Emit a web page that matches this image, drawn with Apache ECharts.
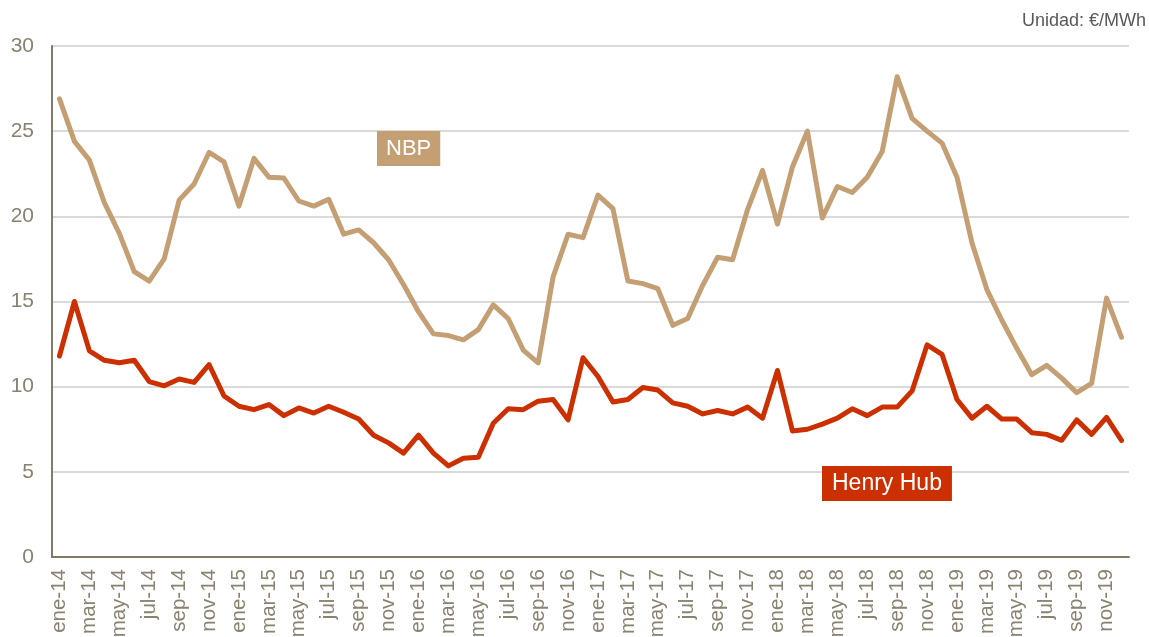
<!DOCTYPE html>
<html>
<head>
<meta charset="utf-8">
<title>NBP y Henry Hub</title>
<script src="https://cdn.jsdelivr.net/npm/echarts@6/dist/echarts.min.js"></script>
<style>
  html, body { margin: 0; padding: 0; background: #ffffff; }
  #chart { width: 1149px; height: 637px; }
</style>
</head>
<body>
<div id="chart"></div>
<script>
// Meses en español y años del periodo
const monthNames = ['ene', 'feb', 'mar', 'abr', 'may', 'jun', 'jul', 'ago', 'sep', 'oct', 'nov', 'dic'];
const years = ['14', '15', '16', '17', '18', '19'];

// Precio mensual NBP (€/MWh)
const nbp = [
  26.9, 24.4, 23.3, 20.8, 19.0, 16.75, 16.2, 17.5, 20.95, 21.9, 23.75, 23.2,
  20.6, 23.4, 22.3, 22.25, 20.9, 20.6, 21.0, 18.95, 19.2, 18.45, 17.45, 16.0,
  14.4, 13.1, 13.0, 12.75, 13.35, 14.8, 14.0, 12.15, 11.4, 16.45, 18.95, 18.75,
  21.25, 20.45, 16.2, 16.05, 15.75, 13.6, 14.0, 15.95, 17.6, 17.45, 20.4, 22.7,
  19.55, 22.9, 25.0, 19.9, 21.75, 21.4, 22.3, 23.8, 28.2, 25.75, 25.0, 24.3,
  22.3, 18.45, 15.7, 13.9, 12.25, 10.7, 11.25, 10.5, 9.65, 10.2, 15.2, 12.9
];

// Precio mensual Henry Hub (€/MWh)
const henryHub = [
  11.8, 15.0, 12.1, 11.55, 11.4, 11.55, 10.3, 10.05, 10.45, 10.25, 11.3, 9.45,
  8.85, 8.65, 8.95, 8.3, 8.75, 8.45, 8.85, 8.5, 8.1, 7.15, 6.7, 6.1,
  7.15, 6.1, 5.35, 5.8, 5.85, 7.85, 8.7, 8.65, 9.15, 9.25, 8.05, 11.7,
  10.6, 9.1, 9.25, 9.95, 9.8, 9.05, 8.85, 8.4, 8.6, 8.4, 8.8, 8.15,
  10.95, 7.4, 7.5, 7.8, 8.15, 8.7, 8.3, 8.8, 8.8, 9.75, 12.45, 11.9,
  9.25, 8.15, 8.85, 8.1, 8.1, 7.3, 7.2, 6.85, 8.05, 7.2, 8.2, 6.85
];

// Escala vertical
const yMin = 0;
const yMax = 30;
const yStep = 5;

const categories = [];
years.forEach(y => monthNames.forEach(m => categories.push(m + '-' + y)));

const COLOR_NBP = '#c49f74';
const COLOR_HH = '#cd3000';
const AXIS_COLOR = '#857a66';
const LABEL_COLOR = '#8a8270';
const FONT = '"Liberation Sans", Arial, sans-serif';

const chart = echarts.init(document.getElementById('chart'), null, { renderer: 'canvas' });

chart.setOption({
  animation: false,
  backgroundColor: '#ffffff',
  grid: {
    left: 52, right: 20, top: 46, bottom: 80,
    containLabel: false,
    outerBoundsMode: 'none'
  },
  xAxis: {
    type: 'category',
    data: categories,
    boundaryGap: true,
    axisLine: { show: true, lineStyle: { color: AXIS_COLOR, width: 2 } },
    axisTick: { show: false },
    axisLabel: {
      interval: 1,
      rotate: 90,
      margin: 12,
      color: LABEL_COLOR,
      fontSize: 20.5,
      fontFamily: FONT
    },
    splitLine: { show: false }
  },
  yAxis: {
    type: 'value',
    min: yMin,
    max: yMax,
    interval: yStep,
    axisLine: { show: true, lineStyle: { color: AXIS_COLOR, width: 2 } },
    axisTick: { show: false },
    axisLabel: {
      margin: 18,
      color: LABEL_COLOR,
      fontSize: 21,
      fontFamily: FONT
    },
    splitLine: { show: true, lineStyle: { color: '#dadada', width: 2 } }
  },
  series: [
    {
      name: 'NBP',
      type: 'line',
      data: nbp,
      showSymbol: false,
      smooth: false,
      lineStyle: { color: COLOR_NBP, width: 5, join: 'round', cap: 'round' },
      itemStyle: { color: COLOR_NBP },
      z: 3
    },
    {
      name: 'Henry Hub',
      type: 'line',
      data: henryHub,
      showSymbol: false,
      smooth: false,
      lineStyle: { color: COLOR_HH, width: 5, join: 'round', cap: 'round' },
      itemStyle: { color: COLOR_HH },
      z: 4
    }
  ],
  graphic: [
    {
      type: 'text',
      right: 3,
      top: 12,
      style: {
        text: 'Unidad: €/MWh',
        fill: '#595959',
        font: '18px ' + FONT
      }
    },
    {
      type: 'text',
      left: 377,
      top: 131,
      style: {
        text: 'NBP',
        fill: '#ffffff',
        font: '22px ' + FONT,
        backgroundColor: COLOR_NBP,
        padding: [7, 9, 6, 9]
      },
      z: 10
    },
    {
      type: 'text',
      left: 822,
      top: 466,
      style: {
        text: 'Henry Hub',
        fill: '#ffffff',
        font: '23px ' + FONT,
        backgroundColor: COLOR_HH,
        padding: [6, 10, 6, 10]
      },
      z: 10
    }
  ]
});
</script>
</body>
</html>
